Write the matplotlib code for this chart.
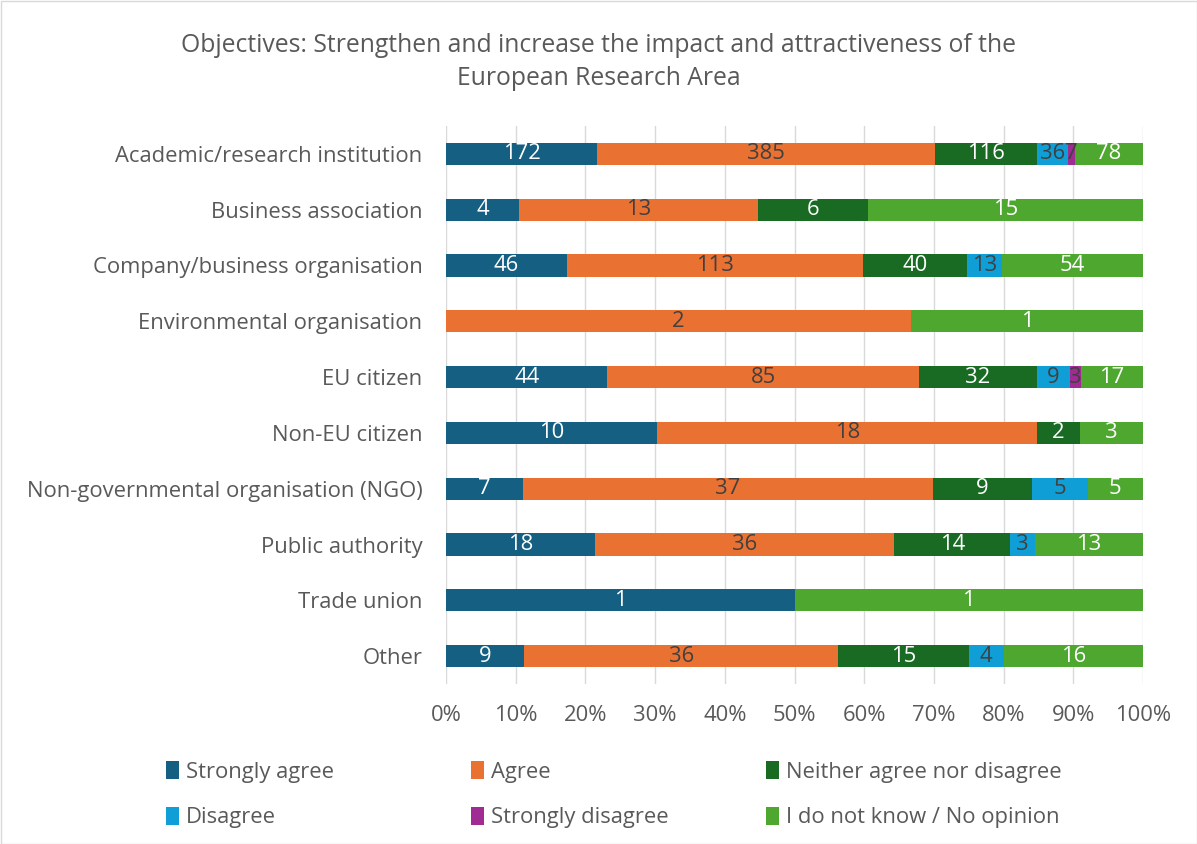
import numpy as np
import matplotlib.pyplot as plt
from matplotlib.patches import Rectangle

# Categories and responses
categories = ["Academic/research institution", "Business association",
              "Company/business organisation", "Environmental organisation",
              "EU citizen", "Non-EU citizen", "Non-governmental organisation (NGO)",
              "Public authority", "Trade union", "Other"]
series_names = ["Strongly agree", "Agree", "Neither agree nor disagree",
                "Disagree", "Strongly disagree", "I do not know / No opinion"]
strongly_agree = [172, 4, 46, 0, 44, 10, 7, 18, 1, 9]
agree = [385, 13, 113, 2, 85, 18, 37, 36, 0, 36]
neither = [116, 6, 40, 0, 32, 2, 9, 14, 0, 15]
disagree = [36, 0, 13, 0, 9, 0, 5, 3, 0, 4]
strongly_disagree = [7, 0, 0, 0, 3, 0, 0, 0, 0, 0]
no_opinion = [78, 15, 54, 1, 17, 3, 5, 13, 1, 16]

colors = ["#156082", "#E97132", "#196B24", "#0F9ED5", "#A02B93", "#4EA72E"]
text_colors = ["white", "#404040", "white", "#404040", "#404040", "white"]

plt.rcParams['font.family'] = ['Open Sans', 'DejaVu Sans']
fs = 15.8

data = np.array([strongly_agree, agree, neither, disagree, strongly_disagree, no_opinion], dtype=float)
totals = data.sum(axis=0)
shares = data / totals

fig = plt.figure(figsize=(11.97, 8.44), dpi=100)
ax = fig.add_axes([446/1197, 1 - 684/844, (1143-446)/1197, (684-126)/844])

y = np.arange(len(categories))
left = np.zeros(len(categories))
bars = []
for i in range(len(series_names)):
    b = ax.barh(y, shares[i], left=left, height=0.4, color=colors[i],
                label=series_names[i], zorder=3)
    bars.append(b)
    for j in range(len(categories)):
        if data[i][j] > 0:
            ax.text(left[j] + shares[i][j] / 2, y[j], str(int(data[i][j])),
                    ha='center', va='center', fontsize=fs, color=text_colors[i], zorder=4)
    left = left + shares[i]

ax.set_ylim(len(categories) - 0.5, -0.5)
ax.set_xlim(0, 1)
ax.set_xticks(np.arange(0, 1.01, 0.1))
ax.set_xticklabels([f"{int(round(t*100))}%" for t in np.arange(0, 1.01, 0.1)])
ax.set_yticks(y)
ax.set_yticklabels(categories)
ax.tick_params(axis='both', length=0, labelsize=fs, colors='#595959')
ax.tick_params(axis='x', pad=15)
ax.tick_params(axis='y', pad=17)
ax.grid(axis='x', color='#D9D9D9', linewidth=1, zorder=0)
for s in ax.spines.values():
    s.set_visible(False)

fig.suptitle("Objectives: Strengthen and increase the impact and attractiveness of the\nEuropean Research Area",
             y=1 - 33/844, fontsize=17.8, color='#595959', linespacing=1.4)

# legend: three columns, row-major like the original
col_x = [155, 460, 755]
for c in range(3):
    idx = [c, c + 3]
    fig.legend([bars[k] for k in idx], [series_names[k] for k in idx],
               loc='upper left', bbox_to_anchor=(col_x[c]/1197, 1 - 750/844),
               frameon=False, fontsize=fs, labelcolor='#595959', handlelength=0.6,
               handleheight=0.9, handletextpad=0.3, labelspacing=1.1, borderpad=0)

fig.patches.append(Rectangle((0.5/1197, 0.5/844), 1 - 1/1197, 1 - 1/844, transform=fig.transFigure,
                             fill=False, edgecolor='#D9D9D9', linewidth=1))

plt.savefig("out.png", dpi=100)
